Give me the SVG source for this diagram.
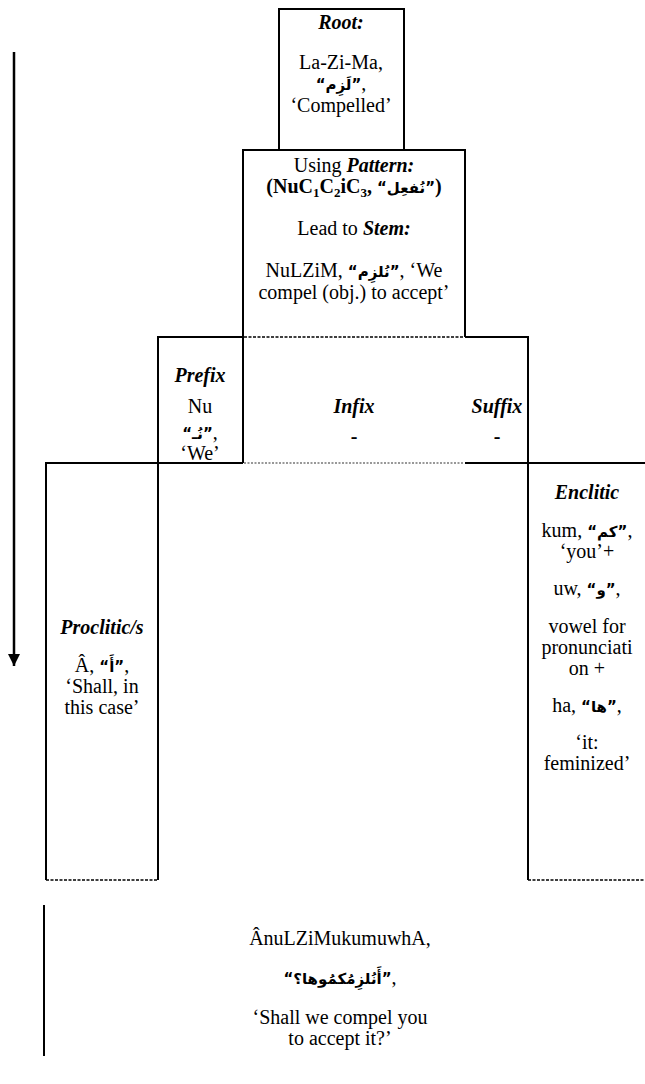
<svg xmlns="http://www.w3.org/2000/svg" width="645" height="1084" viewBox="0 0 645 1084">
<defs>
<style>
text{font-family:'Liberation Serif','DejaVu Serif',serif;font-size:20px;fill:#000;text-anchor:middle}
.bi{font-weight:bold;font-style:italic}
.b{font-weight:bold}
.ar{font-family:'DejaVu Sans',sans-serif;font-weight:bold;font-size:15px}
.ln{stroke:#000;stroke-width:2;fill:none}
.dot{stroke:#000;stroke-width:1.5;stroke-dasharray:3 1.5;fill:none}
.dotl{stroke:#777;stroke-width:1.5;stroke-dasharray:2 1.5;fill:none}
</style>
<marker id="ah" viewBox="0 0 10 10" refX="10" refY="5" markerWidth="5" markerHeight="5" orient="auto" markerUnits="strokeWidth">
<path d="M0,0 L10,5 L0,10 Z" fill="#000"/>
</marker>
</defs>
<rect width="645" height="1084" fill="#fff"/>

<g id="connectors">
<line x1="14" y1="52" x2="14" y2="666" stroke="#000" stroke-width="2.5" marker-end="url(#ah)"/>
<line x1="44" y1="905" x2="44" y2="1056" stroke="#000" stroke-width="2"/>
</g>

<g id="root" font-family="Liberation Serif, serif">
<path class="ln" d="M279,150 V9 H404 V150"/>
<text x="341" y="29" class="bi">Root:</text>
<text x="341" y="69">La-Zi-Ma,</text>
<text x="341" y="90"><tspan class="ar">“لَزِم”</tspan>,</text>
<text x="341" y="112">‘Compelled’</text>
</g>

<g id="pattern">
<path class="ln" d="M243,337 V150 H465 V337"/>
<line class="dot" x1="244" y1="337" x2="464" y2="337"/>
<text x="354" y="172">Using <tspan class="bi">Pattern:</tspan></text>
<text x="354" y="193" class="b">(NuC<tspan font-size="13" dy="4">1</tspan><tspan dy="-4">C</tspan><tspan font-size="13" dy="4">2</tspan><tspan dy="-4">iC</tspan><tspan font-size="13" dy="4">3</tspan><tspan dy="-4">, </tspan><tspan class="ar">“نُفعِل”</tspan>)</text>
<text x="354" y="235">Lead to <tspan class="bi">Stem:</tspan></text>
<text x="354" y="277">NuLZiM, <tspan class="ar">“نُلزِم”</tspan>, ‘We</text>
<text x="354" y="299">compel (obj.) to accept’</text>
</g>

<g id="prefix">
<path class="ln" d="M158,463 V337 H243 V463"/>
<text x="200" y="382" class="bi">Prefix</text>
<text x="200" y="413">Nu</text>
<text x="200" y="439"><tspan class="ar">“نُـ”</tspan>,</text>
<text x="200" y="460">‘We’</text>
</g>

<g id="infix">
<line class="dotl" x1="244" y1="463" x2="464" y2="463"/>
<text x="354" y="413" class="bi">Infix</text>
<text x="354" y="443" class="b">-</text>
</g>

<g id="suffix">
<path class="ln" d="M465,337 H528 V463"/>
<text x="497" y="413" class="bi">Suffix</text>
<text x="497" y="443" class="b">-</text>
</g>

<g id="proclitic">
<path class="ln" d="M46,880 V463 H243"/>
<line class="ln" x1="158" y1="463" x2="158" y2="880"/>
<line class="dot" x1="46" y1="880" x2="158" y2="880"/>
<text x="102" y="634" class="bi">Proclitic/s</text>
<text x="102" y="672">Â, <tspan class="ar">“أَ”</tspan>,</text>
<text x="102" y="693">‘Shall, in</text>
<text x="102" y="714">this case’</text>
</g>

<g id="enclitic">
<path class="ln" d="M465,463 H645"/>
<line class="ln" x1="528" y1="463" x2="528" y2="880"/>
<line class="dot" x1="528" y1="880" x2="645" y2="880"/>
<text x="587" y="499" class="bi">Enclitic</text>
<text x="587" y="537">kum, <tspan class="ar">“كم”</tspan>,</text>
<text x="587" y="558">‘you’+</text>
<text x="587" y="595">uw, <tspan class="ar">“و”</tspan>,</text>
<text x="587" y="633">vowel for</text>
<text x="587" y="654">pronunciati</text>
<text x="587" y="675">on +</text>
<text x="587" y="712">ha, <tspan class="ar">“ها”</tspan>,</text>
<text x="587" y="749">‘it:</text>
<text x="587" y="770">feminized’</text>
</g>

<g id="result">
<text x="340" y="945">ÂnuLZiMukumuwhA,</text>
<text x="340" y="984"><tspan class="ar" font-size="13">“أَنُلزِمُكمُوها؟”</tspan>,</text>
<text x="340" y="1024">‘Shall we compel you</text>
<text x="340" y="1045">to accept it?’</text>
</g>
</svg>
